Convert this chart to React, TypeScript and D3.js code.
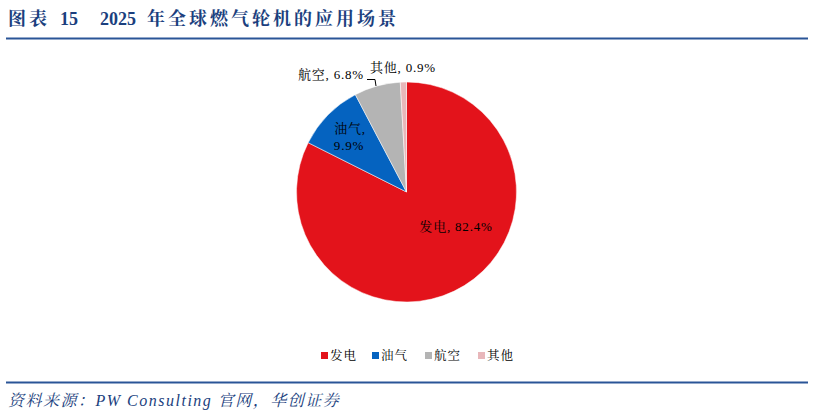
import React from "react";
import * as d3 from "d3";

const categories = ["发电", "油气", "航空", "其他"];
const values = [82.4, 9.9, 6.8, 0.9];
const colors = ["#E3131B", "#0563C0", "#B4B4B4", "#E8B7BA"];

const W = 814;
const H = 416;
const cx = 406.5;
const cy = 192;
const R = 110;

export default function App() {
  const pie = d3.pie<number>().sort(null).value((d) => d)(values);
  const arc = d3.arc<d3.PieArcDatum<number>>().innerRadius(0).outerRadius(R);
  const serif = "'Liberation Serif', 'Noto Serif CJK SC', 'Noto Sans CJK SC', serif";
  const navy = "#1B3F7E";
  const legendX = [321, 372, 425, 478];
  return (
    <svg width={W} height={H} style={{ position: "absolute", left: 0, top: 0 }}>
      <rect width={W} height={H} fill="#fff" />
      <g fontFamily={serif} fontWeight="bold" fontSize={18} fill={navy}>
        <text x={8} y={25} letterSpacing={3}>图表</text>
        <text x={60} y={25}>15</text>
        <text x={100} y={25}>2025</text>
        <text x={147} y={25} letterSpacing={3}>年全球燃气轮机的应用场景</text>
      </g>
      <line x1={6} x2={808} y1={38.5} y2={38.5} stroke="#2A5597" strokeWidth={2} />
      <g transform={`translate(${cx},${cy})`}>
        {pie.map((p, i) => (
          <path key={i} d={arc(p) || ""} fill={colors[i]} stroke="#fff" strokeWidth={0.5} />
        ))}
      </g>
      <g fontFamily={serif} fontSize={13} fill="#000" letterSpacing={0.8}>
        <text x={456} y={231} textAnchor="middle">{`${categories[0]}, ${values[0]}%`}</text>
        <text x={350} y={133} textAnchor="middle">{`${categories[1]},`}</text>
        <text x={349} y={150} textAnchor="middle">{`${values[1]}%`}</text>
        <text x={298} y={79}>{`${categories[2]}, ${values[2]}%`}</text>
        <text x={370} y={72}>{`${categories[3]}, ${values[3]}%`}</text>
      </g>
      <path d="M367,79.5 L375,79.5 L376,86" fill="none" stroke="#000" strokeWidth={1} />
      <g fontFamily={serif} fontSize={12.5} letterSpacing={1}>
        {categories.map((c, i) => (
          <g key={c}>
            <rect x={legendX[i]} y={352} width={7} height={7} fill={colors[i]} />
            <text x={legendX[i] + 9} y={360} fill="#000">{c}</text>
          </g>
        ))}
      </g>
      <line x1={6} x2={808} y1={382.5} y2={382.5} stroke="#2A5597" strokeWidth={2} />
      <text x={8} y={406} fontFamily={serif} fontStyle="italic" fontSize={16} letterSpacing={1.5} fill={navy}>
        资料来源：PW Consulting 官网，华创证券
      </text>
    </svg>
  );
}
